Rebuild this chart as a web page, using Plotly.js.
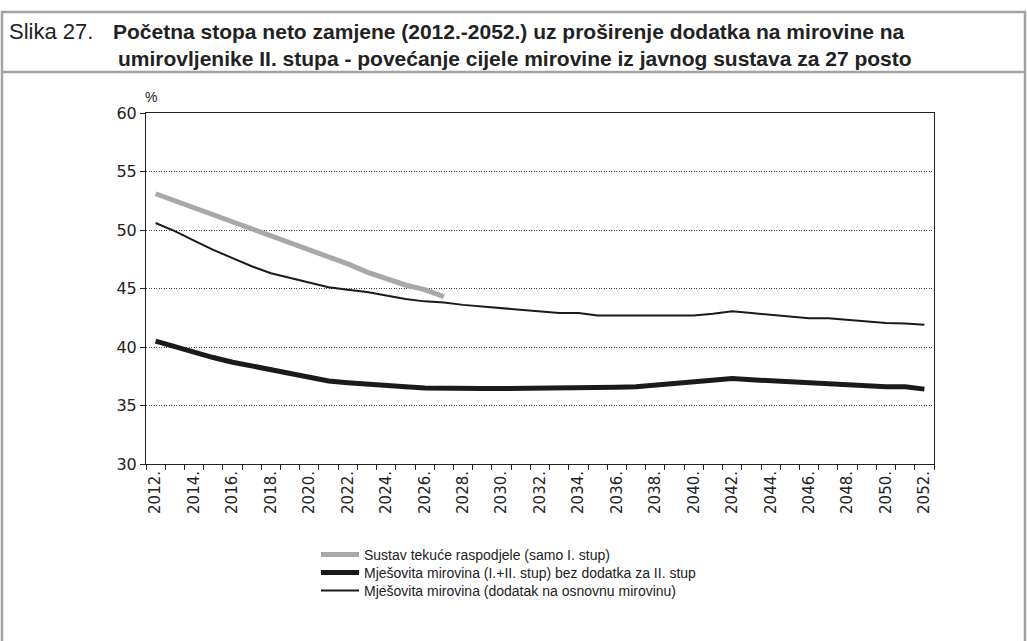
<!DOCTYPE html>
<html>
<head>
<meta charset="utf-8">
<script src="https://cdn.plot.ly/plotly-3.0.1.min.js"></script>
<style>
html,body{margin:0;padding:0;background:#fff;}
#chart{width:1027px;height:641px;}
</style>
</head>
<body>
<div id="chart"></div>
<script>
// ---- data ----
var yearsAll = [];
for (var y = 2012; y <= 2052; y++) yearsAll.push(y);

var yearsPAYG = [2012,2013,2014,2015,2016,2017,2018,2019,2020,2021,2022,2023,2024,2025,2026,2027];
var payg = [53.1,52.5,52.0,51.4,50.8,50.2,49.5,48.9,48.3,47.8,47.1,46.4,45.8,45.3,44.9,44.3];

var mixedNoSupp = [40.5,40.0,39.5,39.1,38.7,38.4,38.0,37.7,37.4,37.1,36.95,36.8,36.7,36.6,36.5,
  36.45,36.45,36.45,36.45,36.45,36.45,36.45,36.45,36.5,36.55,36.6,36.75,36.85,37.0,37.15,37.3,
  37.2,37.1,37.0,36.9,36.85,36.7,36.7,36.6,36.6,36.4];

var mixedSupp = [50.6,49.9,49.1,48.3,47.6,46.9,46.3,45.9,45.5,45.1,44.9,44.7,44.4,44.1,43.9,43.8,
  43.6,43.45,43.3,43.15,43.0,42.9,42.9,42.7,42.7,42.7,42.7,42.7,42.7,42.85,43.05,42.9,42.75,42.6,
  42.45,42.45,42.3,42.15,42.05,42.0,41.9];

var seriesNames = [
  'Sustav tekuće raspodjele (samo I. stup)',
  'Mješovita mirovina (I.+II. stup) bez dodatka za II. stup',
  'Mješovita mirovina (dodatak na osnovnu mirovinu)'
];
var titleLead = 'Slika 27.';
var titleLines = [
  'Početna stopa neto zamjene (2012.-2052.) uz proširenje dodatka na mirovine na',
  'umirovljenike II. stupa - povećanje cijele mirovine iz javnog sustava za 27 posto'
];
var tickYears = yearsAll.filter(function(v){return (v - 2012) % 2 === 0;});
var tickLabels = tickYears.map(function(v){return v + '.';});

// ---- layout geometry ----
var W = 1027, H = 641;
var L = 146, R = 934, T = 113, B = 464;
var pw = R - L, ph = B - T;
function px(X){ return (X - L) / pw; }
function py(Y){ return (B - Y) / ph; }

var boundaries = yearsAll.map(function(v){return v - 0.5;}).concat([yearsAll[yearsAll.length-1] + 0.5]);

var font = 'Liberation Sans, Arial, sans-serif';
var numFont = 'DejaVu Sans, sans-serif';
var traces = [
  {x: yearsPAYG, y: payg, name: seriesNames[0], mode: 'lines', legend: 'legend',
   line: {color: '#a8a8a8', width: 5}},
  {x: yearsAll, y: mixedNoSupp, name: seriesNames[1], mode: 'lines', legend: 'legend2',
   line: {color: '#1a1a1a', width: 5}},
  {x: yearsAll, y: mixedSupp, name: seriesNames[2], mode: 'lines', legend: 'legend3',
   line: {color: '#1a1a1a', width: 2}}
];

function legendAt(Yc){
  return {
    xref: 'container', yref: 'container',
    x: 316 / W, y: 1 - Yc / H, xanchor: 'left', yanchor: 'middle',
    font: {family: font, size: 14, color: '#222'},
    bgcolor: 'rgba(0,0,0,0)', borderwidth: 0, itemwidth: 38
  };
}

var layout = {
  width: W, height: H,
  margin: {l: L, r: W - R, t: T, b: H - B, pad: 0, autoexpand: false},
  paper_bgcolor: '#fff', plot_bgcolor: '#fff',
  font: {family: font, color: '#222', size: 14},
  showlegend: true,
  legend: legendAt(555),
  legend2: legendAt(573),
  legend3: legendAt(591),
  xaxis: {
    range: [2011.5, 2052.5], automargin: false,
    tickmode: 'array', tickvals: tickYears, ticktext: tickLabels,
    tickangle: -90, ticks: '', showgrid: false, zeroline: false,
    showline: true, mirror: true, linecolor: '#222', linewidth: 1,
    tickfont: {family: numFont, size: 15, color: '#222'},
    minor: {tickmode: 'array', tickvals: boundaries, ticks: 'outside', ticklen: 5, tickcolor: '#222', tickwidth: 1, showgrid: false}
  },
  yaxis: {
    range: [30, 60], dtick: 5, tick0: 30, automargin: false,
    ticks: 'outside', ticklen: 5, tickcolor: '#222',
    showgrid: true, gridcolor: '#444', griddash: '1px,1.5px', gridwidth: 1,
    zeroline: false, showline: true, mirror: true, linecolor: '#222', linewidth: 1,
    tickfont: {family: numFont, size: 16, color: '#222'}
  },
  shapes: [
    {type: 'rect', xref: 'paper', yref: 'paper', x0: px(2), x1: px(1025), y0: py(12), y1: py(660),
     line: {color: '#a3a3a3', width: 2.5}, fillcolor: 'rgba(0,0,0,0)', layer: 'below'},
    {type: 'line', xref: 'paper', yref: 'paper', x0: px(2), x1: px(1025), y0: py(72), y1: py(72),
     line: {color: '#a3a3a3', width: 2.5}}
  ],
  annotations: [
    {xref: 'paper', yref: 'paper', x: px(7), y: py(32), xanchor: 'left', yanchor: 'middle',
     text: titleLead, showarrow: false, font: {family: font, size: 22, color: '#222'}},
    {xref: 'paper', yref: 'paper', x: px(111), y: py(32), xanchor: 'left', yanchor: 'middle',
     text: '<b>' + titleLines[0] + '</b>', showarrow: false, font: {family: font, size: 21, color: '#222'}},
    {xref: 'paper', yref: 'paper', x: px(116), y: py(58), xanchor: 'left', yanchor: 'middle',
     text: '<b>' + titleLines[1] + '</b>', showarrow: false, font: {family: font, size: 21, color: '#222'}},
    {xref: 'paper', yref: 'paper', x: px(151), y: py(97), xanchor: 'center', yanchor: 'middle',
     text: '%', showarrow: false, font: {family: font, size: 14, color: '#222'}}
  ]
};

Plotly.newPlot('chart', traces, layout, {displayModeBar: false, staticPlot: true});
</script>
</body>
</html>
